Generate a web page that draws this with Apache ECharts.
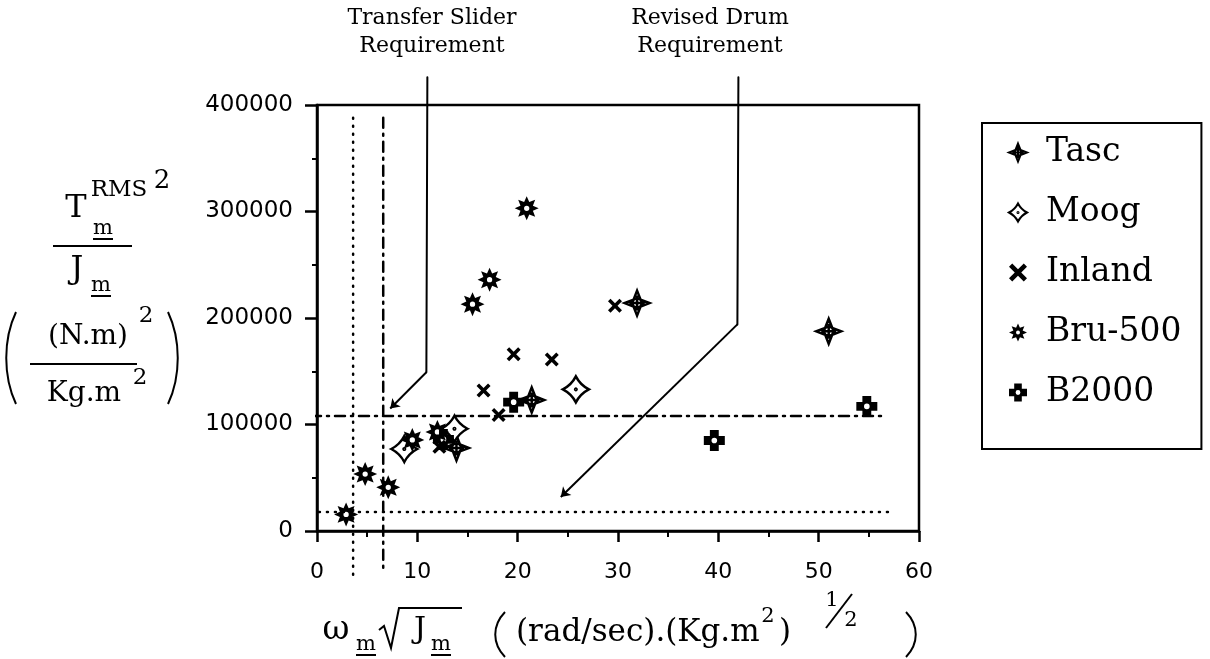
<!DOCTYPE html>
<html>
<head>
<meta charset="utf-8">
<script src="https://cdn.jsdelivr.net/npm/echarts@6/dist/echarts.min.js"></script>
<style>
  html, body { margin: 0; padding: 0; background: #fff; }
  #chart { width: 1210px; height: 659px; }
</style>
</head>
<body>
<div id="chart"></div>
<script>
const seriesNames = ["Tasc", "Moog", "Inland", "Bru-500", "B2000"];

const tascX = [31.9, 51.0, 21.4, 13.9];
const tascY = [214000, 187500, 123000, 78000];
const moogX = [25.8, 8.7, 13.7];
const moogY = [133000, 77000, 96000];
const inlandX = [29.7, 19.6, 23.4, 16.6, 18.1, 12.2];
const inlandY = [211500, 166000, 161000, 132000, 109000, 79000];
const bruX = [20.9, 17.2, 15.5, 12.0, 9.5, 4.8, 7.1, 2.9];
const bruY = [303000, 236000, 213000, 93000, 85500, 53500, 41000, 15600];
const b2000X = [54.8, 39.6, 19.6, 12.6];
const b2000Y = [117000, 85000, 121000, 86000];

const xTicks = [0, 10, 20, 30, 40, 50, 60];
const yTicks = [0, 100000, 200000, 300000, 400000];

// requirement limits and annotation pointers
const dotX = 3.6, dashDotX = 6.6;
const dotY = 17800, dashDotY = 108000;
const transferLine = [[11.0, 426000], [10.9, 149000], [7.3, 115000]];
const drumLine = [[42.0, 426000], [41.9, 194000], [24.3, 32000]];

function zip(xs, ys) {
  return xs.map((x, i) => [x, ys[i]]);
}

function starPath(n, ro, ri, hole) {
  let d = "";
  for (let i = 0; i < n * 2; i++) {
    const a = -Math.PI / 2 + (i * Math.PI) / n;
    const r = i % 2 ? ri : ro;
    d += (i ? "L" : "M") + (r * Math.cos(a)).toFixed(2) + "," + (r * Math.sin(a)).toFixed(2);
  }
  d += "Z";
  if (hole) {
    d += `M${hole},0A${hole},${hole},0,1,0,${-hole},0A${hole},${hole},0,1,0,${hole},0Z`;
  }
  return d;
}

const symTasc = "path://M0,-10L2.8,-2.8L10,0L2.8,2.8L0,10L-2.8,2.8L-10,0L-2.8,-2.8Z" +
  "M3.6,0A3.6,3.6,0,1,1,-3.6,0A3.6,3.6,0,1,1,3.6,0Z M0,-6L0,6 M-6,0L6,0";
const symMoog = "path://M0,-10Q3.4,-3.4,10,0Q3.4,3.4,0,10Q-3.4,3.4,-10,0Q-3.4,-3.4,0,-10Z" +
  "M0.6,0A0.6,0.6,0,1,1,-0.6,0A0.6,0.6,0,1,1,0.6,0Z";
const symInland = "path://M-5,-3.2L-3.2,-5L0,-1.8L3.2,-5L5,-3.2L1.8,0L5,3.2L3.2,5L0,1.8L-3.2,5L-5,3.2L-1.8,0Z";
const symBru = "path://" + starPath(8, 10, 5.6, 2.2);
const symB2000 = "path://M-3.8,-9L3.8,-9L3.8,-3.8L9,-3.8L9,3.8L3.8,3.8L3.8,9L-3.8,9L-3.8,3.8L-9,3.8L-9,-3.8L-3.8,-3.8Z" +
  "M2.4,0A2.4,2.4,0,1,0,-2.4,0A2.4,2.4,0,1,0,2.4,0Z";

const serif = '"DejaVu Serif", serif';
const sans = '"DejaVu Sans", sans-serif';

function txt(x, y, s, size, align) {
  return {
    type: "text", x: x, y: y, silent: true,
    style: {
      text: s, font: size + "px " + serif, fill: "#000",
      textAlign: align || "center", align: align || "center",
      textVerticalAlign: "middle", verticalAlign: "middle",
    },
  };
}

function seg(x1, y1, x2, y2, w) {
  return {
    type: "line", silent: true,
    shape: { x1: x1, y1: y1, x2: x2, y2: y2 },
    style: { stroke: "#000", lineWidth: w || 2 },
  };
}

function paren(x, y1, y2, dir) {
  const h = y2 - y1;
  return {
    type: "bezierCurve", silent: true,
    shape: { x1: x, y1: y1, x2: x, y2: y2, cpx1: x - dir * 13, cpy1: y1 + h * 0.3, cpx2: x - dir * 13, cpy2: y1 + h * 0.7 },
    style: { stroke: "#000", lineWidth: 2, fill: null },
  };
}

function refLine(points, dash, width) {
  return {
    type: "line", data: points, symbol: "none", clip: false, silent: true,
    lineStyle: { color: "#000", width: width || 2, type: dash, cap: "round" },
    z: 1,
  };
}

function pointer(points) {
  const s = refLine(points.slice(0, 2), "solid", 2);
  s.markLine = {
    silent: true, symbol: ["none", "arrow"], symbolSize: 9,
    label: { show: false },
    lineStyle: { color: "#000", width: 2, type: "solid" },
    data: [[{ coord: points[1] }, { coord: points[2] }]],
  };
  return s;
}

function scatter(name, data, symbol, size, filled) {
  return {
    name: name, type: "scatter", data: data, symbol: symbol, symbolSize: size, z: 5,
    itemStyle: filled
      ? { color: "#000", borderWidth: 0, opacity: 1 }
      : { color: "#fff", borderColor: "#000", borderWidth: 2.5, opacity: 1 },
  };
}

const chart = echarts.init(document.getElementById("chart"));

chart.setOption({
  animation: false,
  backgroundColor: "#fff",
  grid: {
    left: 317, right: 291, top: 105, bottom: 128,
    show: true, borderColor: "#000", borderWidth: 2.5, backgroundColor: "transparent",
  },
  xAxis: {
    type: "value", min: 0, max: 60, interval: 10,
    axisLine: { lineStyle: { color: "#000", width: 2.5 } },
    axisTick: { length: 11, lineStyle: { color: "#000", width: 2.5 } },
    minorTick: { show: true, splitNumber: 2, length: 6, lineStyle: { color: "#000", width: 2 } },
    splitLine: { show: false },
    axisLabel: {
      margin: 30, color: "#000", fontFamily: sans, fontSize: 22,
      formatter: (v) => (xTicks.includes(v) ? String(v) : ""),
    },
  },
  yAxis: {
    type: "value", min: 0, max: 400000, interval: 100000,
    axisLine: { lineStyle: { color: "#000", width: 2.5 } },
    axisTick: { length: 12, lineStyle: { color: "#000", width: 2.5 } },
    minorTick: { show: true, splitNumber: 2, length: 5, lineStyle: { color: "#000", width: 2 } },
    splitLine: { show: false },
    axisLabel: {
      margin: 24, color: "#000", fontFamily: sans, fontSize: 23,
      formatter: (v) => (yTicks.includes(v) ? String(v) : ""),
    },
  },
  legend: {
    orient: "vertical", left: 982, top: 123,
    data: seriesNames,
    itemWidth: 18, itemHeight: 18, itemGap: 27,
    padding: [13, 20, 40, 26],
    borderColor: "#000", borderWidth: 2,
    textStyle: { fontFamily: serif, fontSize: 33, color: "#000", padding: [0, 0, 0, 14] },
  },
  series: [
    refLine([[dotX, 388000], [dotX, -42000]], [1, 7], 2.5),
    refLine([[dashDotX, 388000], [dashDotX, -40000]], [10, 6, 2, 6], 2.5),
    refLine([[-2.2, dotY], [57.2, dotY]], [1, 7], 2.5),
    refLine([[-0.6, dashDotY], [56.6, dashDotY]], [10, 6, 2, 6], 2.5),
    pointer(transferLine),
    pointer(drumLine),
    scatter("Tasc", zip(tascX, tascY), symTasc, 25, false),
    scatter("Moog", zip(moogX, moogY), symMoog, 26, false),
    scatter("Inland", zip(inlandX, inlandY), symInland, 14, true),
    scatter("Bru-500", zip(bruX, bruY), symBru, 24, true),
    scatter("B2000", zip(b2000X, b2000Y), symB2000, 21, true),
  ],
  graphic: [
    txt(432, 18, "Transfer Slider", 22),
    txt(432, 46, "Requirement", 22),
    txt(710, 18, "Revised Drum", 22),
    txt(710, 46, "Requirement", 22),

    // y axis title
    txt(76, 209, "T", 32),
    txt(119, 190, "RMS", 23),
    txt(162, 181, "2", 26),
    txt(103, 229, "m", 21),
    seg(93, 239, 113, 239, 2),
    seg(53, 246, 132, 246, 2),
    txt(77, 270, "J", 32),
    txt(101, 286, "m", 21),
    seg(91, 296, 111, 296, 2),
    paren(16, 312, 404, 1),
    paren(168, 312, 404, -1),
    txt(88, 337, "(N.m)", 28),
    txt(146, 316, "2", 23),
    seg(30, 364, 137, 364, 2),
    txt(84, 394, "Kg.m", 28),
    txt(140, 378, "2", 23),

    // x axis title
    txt(336, 630, "\u03c9", 33),
    txt(366, 645, "m", 21),
    seg(356, 655, 376, 655, 2),
    { type: "polyline", silent: true,
      shape: { points: [[379, 630], [384, 626], [391, 648], [399, 608], [462, 608]] },
      style: { stroke: "#000", lineWidth: 2, fill: null } },
    txt(420, 630, "J", 30),
    txt(441, 645, "m", 21),
    seg(431, 655, 451, 655, 2),
    paren(505, 612, 657, 1),
    txt(516, 633, "(rad/sec).(Kg.m", 31, "left"),
    txt(768, 617, "2", 21),
    txt(785, 633, ")", 31),
    txt(832, 601, "1", 21),
    seg(826, 628, 852, 594, 2),
    txt(851, 621, "2", 21),
    paren(906, 612, 657, -1),
  ],
});
</script>
</body>
</html>
